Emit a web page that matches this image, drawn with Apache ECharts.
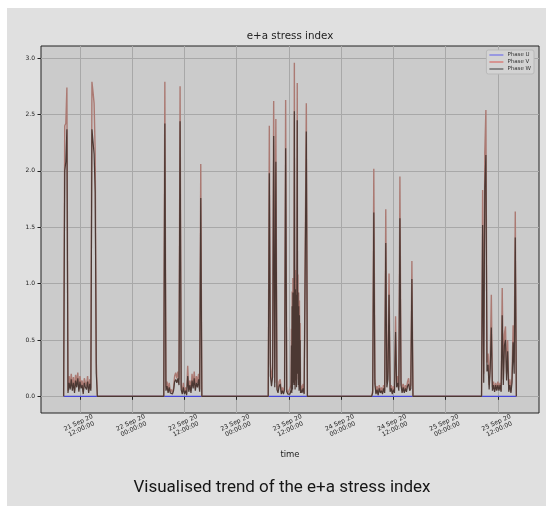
<!DOCTYPE html>
<html>
<head>
<meta charset="utf-8">
<script src="https://cdn.jsdelivr.net/npm/echarts/dist/echarts.min.js"></script>
<style>
html,body{margin:0;padding:0;background:#ffffff;}
#bg{position:absolute;left:7px;top:8px;width:539px;height:498px;background:#e0e0e0;}
#chart{position:absolute;left:0;top:0;width:551px;height:512px;}
</style>
</head>
<body>
<div id="bg"></div>
<div id="chart"></div>
<script>
// ---- data ----
const seriesNames = ['Phase U', 'Phase V', 'Phase W'];

const times = [
  // 21 Sep
  '2020-09-21 08:15','2020-09-21 08:30','2020-09-21 08:45','2020-09-21 09:00','2020-09-21 09:15','2020-09-21 09:30','2020-09-21 09:45','2020-09-21 10:00',
  '2020-09-21 10:15','2020-09-21 10:30','2020-09-21 10:45','2020-09-21 11:00','2020-09-21 11:15','2020-09-21 11:30','2020-09-21 11:45','2020-09-21 12:00',
  '2020-09-21 12:15','2020-09-21 12:30','2020-09-21 12:45','2020-09-21 13:00','2020-09-21 13:15','2020-09-21 13:30','2020-09-21 13:45','2020-09-21 14:00',
  '2020-09-21 14:15','2020-09-21 14:30','2020-09-21 14:45','2020-09-21 15:00','2020-09-21 15:15','2020-09-21 15:30','2020-09-21 15:45','2020-09-21 16:00',
  // 22 Sep
  '2020-09-22 07:15','2020-09-22 07:30','2020-09-22 07:45','2020-09-22 08:00','2020-09-22 08:15','2020-09-22 08:30','2020-09-22 08:45','2020-09-22 09:00',
  '2020-09-22 09:15','2020-09-22 09:30','2020-09-22 09:45','2020-09-22 10:00','2020-09-22 10:15','2020-09-22 10:30','2020-09-22 10:45','2020-09-22 11:00',
  '2020-09-22 11:15','2020-09-22 11:30','2020-09-22 11:45','2020-09-22 12:00','2020-09-22 12:15','2020-09-22 12:30','2020-09-22 12:45','2020-09-22 13:00',
  '2020-09-22 13:15','2020-09-22 13:30','2020-09-22 13:45','2020-09-22 14:00','2020-09-22 14:15','2020-09-22 14:30','2020-09-22 14:45','2020-09-22 15:00',
  '2020-09-22 15:15','2020-09-22 15:30','2020-09-22 15:45','2020-09-22 16:00',
  // 23 Sep
  '2020-09-23 07:15','2020-09-23 07:30','2020-09-23 07:45','2020-09-23 08:00','2020-09-23 08:15','2020-09-23 08:30','2020-09-23 08:45','2020-09-23 09:00',
  '2020-09-23 09:15','2020-09-23 09:30','2020-09-23 09:45','2020-09-23 10:00','2020-09-23 10:15','2020-09-23 10:30','2020-09-23 10:45','2020-09-23 11:00',
  '2020-09-23 11:15','2020-09-23 11:30','2020-09-23 11:45','2020-09-23 12:00','2020-09-23 12:15','2020-09-23 12:30',
  '2020-09-23 12:35','2020-09-23 12:40','2020-09-23 12:45','2020-09-23 12:50','2020-09-23 12:55','2020-09-23 13:00','2020-09-23 13:05','2020-09-23 13:10',
  '2020-09-23 13:15','2020-09-23 13:20','2020-09-23 13:25','2020-09-23 13:30','2020-09-23 13:35','2020-09-23 13:40','2020-09-23 13:45','2020-09-23 13:50',
  '2020-09-23 13:55','2020-09-23 14:00','2020-09-23 14:05','2020-09-23 14:10','2020-09-23 14:15','2020-09-23 14:20','2020-09-23 14:25','2020-09-23 14:30',
  '2020-09-23 14:35','2020-09-23 14:40','2020-09-23 14:45',
  '2020-09-23 15:00','2020-09-23 15:15','2020-09-23 15:30','2020-09-23 15:45','2020-09-23 16:00','2020-09-23 16:15',
  // 24 Sep
  '2020-09-24 07:00','2020-09-24 07:15','2020-09-24 07:30','2020-09-24 07:45','2020-09-24 08:00','2020-09-24 08:15','2020-09-24 08:30','2020-09-24 08:45',
  '2020-09-24 09:00','2020-09-24 09:15','2020-09-24 09:30','2020-09-24 09:45','2020-09-24 10:00','2020-09-24 10:15','2020-09-24 10:30','2020-09-24 10:45',
  '2020-09-24 11:00','2020-09-24 11:15','2020-09-24 11:30','2020-09-24 11:45','2020-09-24 12:00','2020-09-24 12:15','2020-09-24 12:30','2020-09-24 12:45',
  '2020-09-24 13:00','2020-09-24 13:15','2020-09-24 13:30','2020-09-24 13:45','2020-09-24 14:00','2020-09-24 14:15','2020-09-24 14:30','2020-09-24 14:45',
  '2020-09-24 15:00','2020-09-24 15:15','2020-09-24 15:30','2020-09-24 15:45','2020-09-24 16:00','2020-09-24 16:15','2020-09-24 16:30',
  // 25 Sep
  '2020-09-25 08:15','2020-09-25 08:30','2020-09-25 08:45','2020-09-25 09:00','2020-09-25 09:15','2020-09-25 09:30','2020-09-25 09:45','2020-09-25 10:00',
  '2020-09-25 10:15','2020-09-25 10:30','2020-09-25 10:45','2020-09-25 11:00','2020-09-25 11:15','2020-09-25 11:30','2020-09-25 11:45','2020-09-25 12:00',
  '2020-09-25 12:15','2020-09-25 12:30','2020-09-25 12:45','2020-09-25 13:00','2020-09-25 13:15','2020-09-25 13:30','2020-09-25 13:45','2020-09-25 14:00',
  '2020-09-25 14:15','2020-09-25 14:30','2020-09-25 14:45','2020-09-25 15:00','2020-09-25 15:15','2020-09-25 15:30','2020-09-25 15:45','2020-09-25 16:00',
  '2020-09-25 16:15'
];

const phaseU = [
  0,0,0,0,0,0,0,0, 0,0,0,0,0,0,0,0, 0,0,0,0,0,0,0,0, 0,0,0,0,0,0,0,0,
  0,0,0,0,0,0,0,0, 0,0,0,0,0,0,0,0, 0,0,0,0,0,0,0,0, 0,0,0,0,0,0,0,0, 0,0,0,0,
  0,0,0,0,0,0,0,0, 0,0,0,0,0,0,0,0, 0,0,0,0,0,0,
  0,0,0,0,0,0,0,0, 0,0,0,0,0,0,0,0, 0,0,0,0,0,0,0,0, 0,0,0,
  0,0,0,0,0,0,
  0,0,0,0,0,0,0,0, 0,0,0,0,0,0,0,0, 0,0,0,0,0,0,0,0, 0,0,0,0,0,0,0,0, 0,0,0,0,0,0,0,
  0,0,0,0,0,0,0,0, 0,0,0,0,0,0,0,0, 0,0,0,0,0,0,0,0, 0,0,0,0,0,0,0,0, 0
];

const phaseV = [
  0,2.40,2.42,2.74,0.05,0.18,0.10,0.20, 0.08,0.17,0.05,0.19,0.12,0.21,0.06,0.18,
  0.10,0.14,0.04,0.16,0.12,0.09,0.18,0.05, 0.15,0.07,2.79,2.70,2.60,2.16,0.30,0,
  0,2.79,0.08,0.13,0.05,0.12,0.04,0.06, 0.03,0.07,0.18,0.21,0.16,0.22,0.15,2.75,
  0.10,0.04,0.12,0.03,0.08,0.02,0.27,0.06, 0.14,0.05,0.20,0.10,0.22,0.07,0.18,0.12, 0.20,0.06,2.06,0,
  0,2.40,0.29,0.14,0.25,2.62,0.12,2.46, 0.10,0.05,0.13,0.15,0.04,0.08,0.03,0.09, 2.63,0.06,0.03,0.05,0.04,0.10,
  0.60,0.05,0.93,0.10,1.05,0.20,0.98,0.15, 2.96,0.85,0.10,1.12,0.20,1.05,0.12,0.95,
  2.78,0.30,1.08,0.15,0.92,0.08,0.85,0.10, 0.65,0.05,0.10,
  0.05,0.11,0.03,0.04,2.60,0,
  0,0.05,2.02,0.16,0.03,0.09,0.02,0.10, 0.04,0.08,0.03,0.10,0.05,1.66,0.12,0.22,
  1.09,0.06,0.10,0.03,0.09,0.05,0.71,0.12, 0.18,0.08,1.95,0.14,0.05,0.11,0.04,0.10, 0.06,0.13,0.16,0.07,0.10,1.20,0,
  0,1.83,0.20,2.16,2.54,0.30,0.38,0.10, 0.33,0.90,0.08,0.13,0.05,0.12,0.06,0.13,
  0.07,0.12,0.05,0.96,0.15,0.55,0.62,0.20, 0.50,0.06,0.15,0.04,0.18,0.63,0.30,1.64, 0
];

const phaseW = [
  0,2.00,2.08,2.37,0.03,0.12,0.06,0.15, 0.05,0.12,0.03,0.14,0.08,0.16,0.04,0.13,
  0.07,0.10,0.02,0.12,0.08,0.06,0.13,0.03, 0.11,0.05,2.37,2.36,2.15,1.81,0.20,0,
  0,2.42,0.05,0.09,0.03,0.08,0.03,0.04, 0.02,0.05,0.13,0.15,0.12,0.16,0.10,2.44,
  0.06,0.02,0.08,0.02,0.05,0.01,0.18,0.04, 0.10,0.03,0.14,0.07,0.16,0.05,0.12,0.08, 0.15,0.04,1.76,0,
  0,1.98,0.18,0.09,0.17,2.31,0.08,2.08, 0.06,0.03,0.09,0.11,0.02,0.05,0.02,0.06, 2.20,0.04,0.02,0.03,0.02,0.06,
  0.45,0.03,0.80,0.06,0.92,0.12,0.85,0.10, 2.53,0.72,0.06,0.95,0.14,0.90,0.08,0.82,
  2.45,0.20,0.92,0.10,0.80,0.05,0.72,0.06, 0.50,0.03,0.06,
  0.03,0.07,0.02,0.02,2.35,0,
  0,0.03,1.63,0.11,0.02,0.06,0.01,0.07, 0.03,0.05,0.02,0.07,0.03,1.36,0.08,0.15,
  0.90,0.04,0.07,0.02,0.06,0.03,0.57,0.08, 0.12,0.05,1.58,0.10,0.03,0.08,0.03,0.07, 0.04,0.09,0.11,0.05,0.07,1.04,0,
  0,1.52,0.12,1.85,2.14,0.22,0.28,0.06, 0.25,0.61,0.05,0.10,0.04,0.10,0.05,0.10,
  0.05,0.10,0.04,0.72,0.10,0.45,0.50,0.14, 0.40,0.04,0.10,0.03,0.12,0.48,0.20,1.41, 0
];

const xTickLabels = [
  '2020-09-21 12:00','2020-09-22 00:00','2020-09-22 12:00','2020-09-23 00:00','2020-09-23 12:00',
  '2020-09-24 00:00','2020-09-24 12:00','2020-09-25 00:00','2020-09-25 12:00'
];
const yTickValues = [0, 0.5, 1.0, 1.5, 2.0, 2.5, 3.0];

// ---- build ----
function toMs(s) { return Date.parse(s.replace(' ', 'T') + ':00Z'); }
const tMs = times.map(toMs);
const mon = ['Jan','Feb','Mar','Apr','May','Jun','Jul','Aug','Sep','Oct','Nov','Dec'];
function pad(n) { return (n < 10 ? '0' : '') + n; }
function fmt(v) {
  const d = new Date(v);
  return d.getUTCDate() + ' ' + mon[d.getUTCMonth()] + ' ' + String(d.getUTCFullYear()).slice(2) +
    '\n' + pad(d.getUTCHours()) + ':' + pad(d.getUTCMinutes()) + ':' + pad(d.getUTCSeconds());
}
const tMin = Math.min.apply(null, tMs), tMax = Math.max.apply(null, tMs);
const xPad = (tMax - tMin) * 0.05;
const allVals = phaseU.concat(phaseV, phaseW);
const vMax = Math.max.apply(null, allVals), vMin = Math.min.apply(null, allVals);
const yPad = (vMax - vMin) * 0.05;

const colors = ['#4646d8', '#ab7a73', '#4c3833'];
const legendColors = ['#8585e4', '#d77f7b', '#6e6e6e'];
const valueArrays = [phaseU, phaseV, phaseW];

const chart = echarts.init(document.getElementById('chart'), null, { renderer: 'canvas' });
chart.setOption({
  animation: false,
  backgroundColor: 'transparent',
  textStyle: { fontFamily: 'DejaVu Sans' },
  graphic: [
    { type: 'text', x: 290, y: 36, silent: true,
      style: { text: 'e+a stress index', fontSize: 10.3, fill: '#222', fontFamily: 'DejaVu Sans',
               align: 'center', verticalAlign: 'middle' } },
    { type: 'text', x: 282, y: 488, silent: true,
      style: { text: 'Visualised trend of the e+a stress index', fontSize: 17, fill: '#151515', fontFamily: 'Roboto',
               align: 'center', verticalAlign: 'middle' } }
  ],
  legend: {
    orient: 'vertical', right: 17, top: 50,
    data: seriesNames.map((n, i) => ({ name: n, itemStyle: { color: legendColors[i] } })),
    icon: 'rect', itemWidth: 14, itemHeight: 1.5, itemGap: 1,
    padding: [2, 3, 2, 3],
    backgroundColor: '#d3d3d3', borderColor: '#b9b9b9', borderWidth: 1, borderRadius: 2,
    textStyle: { fontSize: 5.5, color: '#333', fontFamily: 'DejaVu Sans', padding: [0, 0, 0, -1] }
  },
  grid: {
    left: 41, right: 12, top: 46, bottom: 99,
    show: true, backgroundColor: '#cbcbcb', borderColor: '#222', borderWidth: 1
  },
  xAxis: {
    type: 'value', min: tMin - xPad, max: tMax + xPad,
    name: 'time', nameLocation: 'middle', nameGap: 37,
    nameTextStyle: { fontSize: 8.5, color: '#222', fontFamily: 'DejaVu Sans' },
    axisLine: { show: false },
    axisTick: { show: true, length: 3.5, lineStyle: { color: '#222' }, customValues: xTickLabels.map(toMs) },
    axisLabel: {
      customValues: xTickLabels.map(toMs), formatter: fmt, rotate: 25,
      align: 'center', verticalAlign: 'middle', margin: 13,
      fontSize: 6.2, lineHeight: 7, color: '#222', fontFamily: 'DejaVu Sans'
    },
    splitLine: { show: true, lineStyle: { color: '#a8a8a8', width: 1 } }
  },
  yAxis: {
    type: 'value', min: vMin - yPad, max: vMax + yPad,
    axisLine: { show: false },
    axisTick: { show: true, length: 3.5, lineStyle: { color: '#222' }, customValues: yTickValues },
    axisLabel: {
      customValues: yTickValues, formatter: v => v.toFixed(1), margin: 6,
      fontSize: 6, color: '#222', fontFamily: 'DejaVu Sans'
    },
    splitLine: { show: true, lineStyle: { color: '#a8a8a8', width: 1 } }
  },
  series: seriesNames.map((n, i) => ({
    name: n, type: 'line', showSymbol: false, symbol: 'none',
    data: tMs.map((t, k) => [t, valueArrays[i][k]]),
    lineStyle: { color: colors[i], width: i === 1 ? 1.4 : 1.2 },
    itemStyle: { color: colors[i] },
    z: 2 + i
  }))
});
</script>
</body>
</html>
